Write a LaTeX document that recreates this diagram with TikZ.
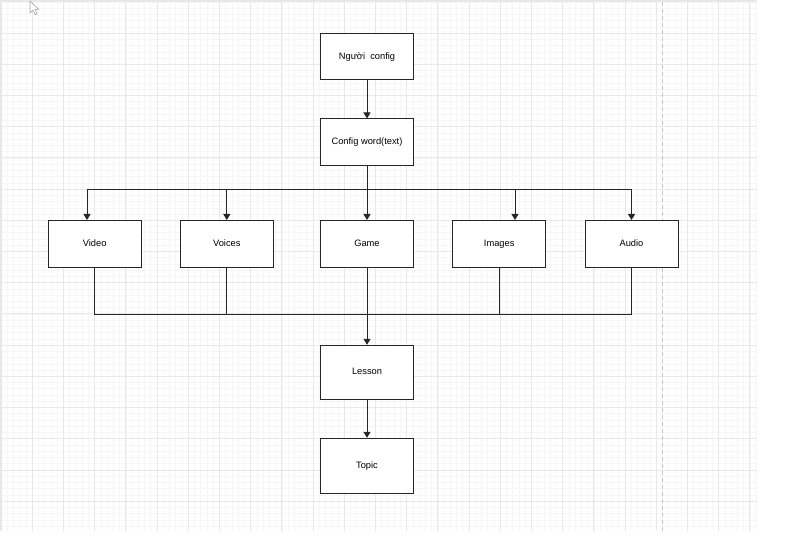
\documentclass[tikz,border=0pt]{standalone}
\usepackage{fontspec}
\setmainfont{Liberation Sans}
\usetikzlibrary{arrows.meta}
\definecolor{minorgrid}{HTML}{F6F6F6}
\definecolor{majorgrid}{HTML}{E8E8E8}
\definecolor{linec}{HTML}{262626}
\tikzset{
  boxnode/.style={draw=linec, line width=1pt, fill=white, rectangle, minimum width=93pt, text=black, font=\fontsize{9.3}{11}\selectfont, inner sep=0pt, text height=7pt, text depth=2pt},
  conn/.style={draw=linec, line width=1pt},
  arr/.style={conn, -{Triangle[width=7pt,length=6pt]}},
  minorline/.style={draw=minorgrid, line width=0.8pt},
  majorline/.style={draw=majorgrid, line width=1pt}
}
\begin{document}
\begin{tikzpicture}[x=1pt,y=-1pt]
\useasboundingbox (0,0) rectangle (785,537);
\fill[white] (0,0) rectangle (785,537);
% grid
\foreach \i in {0,...,121} \draw[minorline] ({1.1+6.24*\i},2) -- ({1.1+6.24*\i},531);
\foreach \j in {0,...,84} \draw[minorline] (0,{2+6.24*\j}) -- (757,{2+6.24*\j});
\foreach \i in {0,...,24} \draw[majorline] ({1.1+31.2*\i},2) -- ({1.1+31.2*\i},531);
\foreach \j in {0,...,16} \draw[majorline] (0,{2+31.2*\j}) -- (757,{2+31.2*\j});
\fill[majorgrid] (0,0) rectangle (757,2);
\draw[majorgrid, line width=1.2pt] (0.6,0) -- (0.6,531);
\draw[gray!45, line width=1pt, dash pattern=on 4pt off 3pt] (662,2) -- (662,531);
% cursor
\draw[gray!70, fill=white, line width=0.6pt] (30,1) -- (30,13) -- (33,10.2) -- (35.2,14.6) -- (37,13.7) -- (35,9.4) -- (38.8,9.4) -- cycle;
% nodes
\node[boxnode, minimum height=46pt] (nc) at (367,57) {Người\ \ config};
\node[boxnode, minimum height=47pt] (cw) at (367,142.5) {Config word(text)};
\node[boxnode, minimum height=47pt] (video) at (94.7,244) {Video};
\node[boxnode, minimum height=47pt] (voices) at (226.8,244) {Voices};
\node[boxnode, minimum height=47pt] (game) at (367,244) {Game};
\node[boxnode, minimum height=47pt] (images) at (499.2,244) {Images};
\node[boxnode, minimum height=47pt] (audio) at (631.5,244) {Audio};
\node[boxnode, minimum height=54pt] (lesson) at (367,372.3) {Lesson};
\node[boxnode, minimum height=55pt] (topic) at (367,465.8) {Topic};
% top bus
\coordinate (tv) at (87,189.3);
\coordinate (tvo) at (226.8,189.3);
\coordinate (tg) at (367,189.3);
\coordinate (ti) at (515,189.3);
\coordinate (ta) at (631.5,189.3);
\draw[arr] (nc) -- (cw);
\draw[conn] (cw.south) -- (tg);
\draw[conn] (tv) -- (ta);
\draw[arr] (tv) -- (tv |- video.north);
\draw[arr] (tvo) -- (voices.north);
\draw[arr] (tg) -- (game.north);
\draw[arr] (ti) -- (ti |- images.north);
\draw[arr] (ta) -- (audio.north);
% bottom bus
\coordinate (bv) at (94.7,314.3);
\coordinate (ba) at (631.5,314.3);
\draw[conn] (video.south) -- (bv) -- (ba) -- (audio.south);
\draw[conn] (voices.south) -- (voices.south |- bv);
\draw[conn] (images.south) -- (images.south |- bv);
\draw[arr] (game) -- (lesson);
\draw[arr] (lesson) -- (topic);
\end{tikzpicture}
\end{document}
